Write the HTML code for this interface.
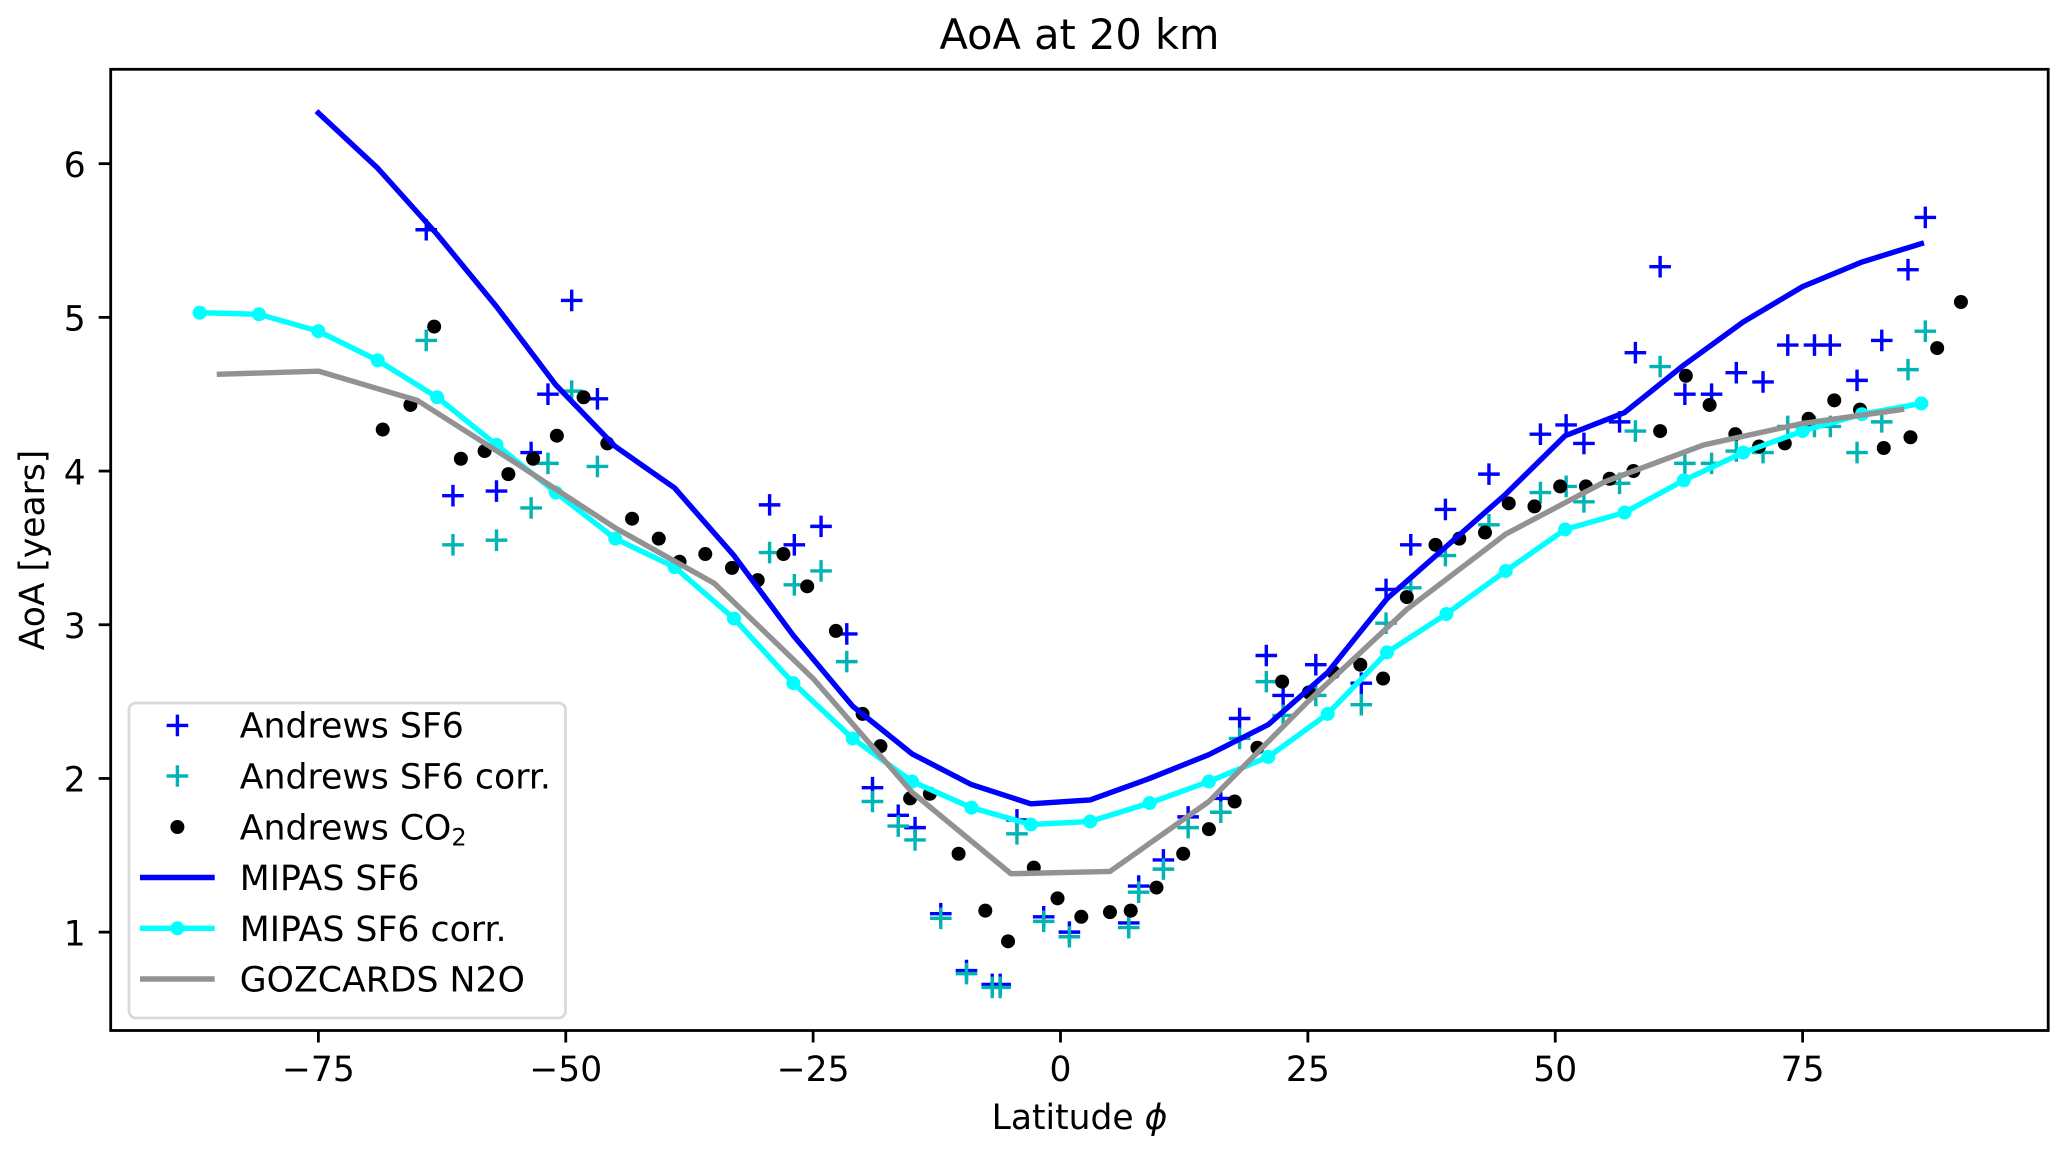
<!DOCTYPE html>
<html lang="en">
<head>
<meta charset="utf-8">
<title>AoA at 20 km</title>
<style>
html,body{margin:0;padding:0;background:#fff;}
body{width:2067px;height:1154px;overflow:hidden;}
svg{display:block;}
text{font-family:"DejaVu Sans","Liberation Sans",sans-serif;fill:#000;}
</style>
</head>
<body>
<svg id="chart" xmlns="http://www.w3.org/2000/svg" width="2067" height="1154" viewBox="0 0 2067 1154">
  <rect x="0" y="0" width="2067" height="1154" fill="#fff"/>
  <text x="1079.5" y="49" font-size="41.5" text-anchor="middle">AoA at 20 km</text>
  <text x="1079.5" y="1129" font-size="34.5" text-anchor="middle">Latitude <tspan font-style="italic">ϕ</tspan></text>
  <text transform="translate(44,550) rotate(-90)" font-size="34.5" text-anchor="middle">AoA [years]</text>
  <g id="marks"></g>
  <g id="axes"></g>
  <g>
    <rect x="129" y="703" width="436.5" height="315" rx="7" ry="7" fill="#fff" fill-opacity="0.8" stroke="#d9d9d9" stroke-width="2.8"/>
    <g>
      <path d="M166.6 725.4H188.2M177.4 714.6V736.2" stroke="#0000ff" stroke-width="3.4" fill="none"/>
      <text x="239.8" y="737.5" font-size="34.7">Andrews SF6</text>
    </g>
    <g>
      <path d="M166.6 776H188.2M177.4 765.2V786.8" stroke="#00b4b4" stroke-width="3.4" fill="none"/>
      <text x="239.8" y="788.5" font-size="34.7">Andrews SF6 corr.</text>
    </g>
    <g>
      <circle cx="177.4" cy="827" r="7" fill="#000"/>
      <text x="239.8" y="839.5" font-size="34.7">Andrews CO<tspan font-size="24" dy="6">2</tspan></text>
    </g>
    <g>
      <line x1="140" y1="877.5" x2="214.7" y2="877.5" stroke="#0000ff" stroke-width="5.4"/>
      <text x="239.8" y="890" font-size="34.7">MIPAS SF6</text>
    </g>
    <g>
      <line x1="140" y1="928.3" x2="214.7" y2="928.3" stroke="#00ffff" stroke-width="5.4"/>
      <circle cx="177.4" cy="928.3" r="7" fill="#00ffff"/>
      <text x="239.8" y="940.8" font-size="34.7">MIPAS SF6 corr.</text>
    </g>
    <g>
      <line x1="140" y1="979" x2="214.7" y2="979" stroke="#929292" stroke-width="5.4"/>
      <text x="239.8" y="991.5" font-size="34.7">GOZCARDS N2O</text>
    </g>
  </g>
</svg>
<script>
const andrewsLat = [-64.1,-61.4,-57.0,-53.5,-51.8,-49.4,-46.8,-29.4,-26.9,-24.2,-21.6,-19.0,-16.4,-14.7,-12.1,-9.5,-6.9,-6.1,-4.4,-1.7,0.9,6.9,7.9,10.4,12.9,16.2,18.1,20.8,22.5,25.8,30.4,32.9,35.4,38.9,43.3,48.5,51.1,52.9,56.5,58.1,60.6,63.1,65.8,68.3,71.0,73.5,76.2,77.8,80.5,83.0,85.65,87.4];
const andrewsSf6 = [5.57,3.84,3.87,4.12,4.50,5.11,4.47,3.78,3.52,3.64,2.94,1.94,1.76,1.68,1.12,0.75,0.66,0.66,1.73,1.10,1.00,1.06,1.30,1.47,1.75,1.87,2.39,2.80,2.54,2.74,2.62,3.23,3.52,3.75,3.98,4.24,4.30,4.18,4.32,4.77,5.33,4.50,4.50,4.64,4.58,4.82,4.82,4.82,4.59,4.85,5.31,5.65];
const andrewsSf6Corr = [4.85,3.52,3.55,3.76,4.05,4.52,4.03,3.47,3.26,3.35,2.76,1.85,1.69,1.60,1.09,0.73,0.64,0.64,1.64,1.07,0.97,1.03,1.26,1.41,1.68,1.78,2.26,2.63,2.41,2.54,2.48,3.01,3.24,3.45,3.65,3.86,3.90,3.80,3.92,4.26,4.68,4.05,4.05,4.13,4.12,4.29,4.29,4.29,4.12,4.32,4.66,4.91];
const co2Lat = [-68.5,-65.7,-63.3,-60.6,-58.2,-55.8,-53.3,-50.9,-48.2,-45.8,-43.3,-40.6,-38.5,-35.9,-33.2,-30.6,-28.0,-25.6,-22.7,-20.0,-18.2,-15.2,-13.2,-10.3,-7.6,-5.3,-2.7,-0.3,2.1,5.0,7.1,9.7,12.4,15.0,17.6,19.9,22.4,25.1,27.6,30.3,32.6,35.0,37.9,40.3,42.9,45.3,47.9,50.5,53.1,55.5,57.9,60.6,63.2,65.6,68.2,70.6,73.2,75.6,78.2,80.8,83.2,85.9,88.6,91.0];
const co2Age = [4.27,4.43,4.94,4.08,4.13,3.98,4.08,4.23,4.48,4.18,3.69,3.56,3.41,3.46,3.37,3.29,3.46,3.25,2.96,2.42,2.21,1.87,1.90,1.51,1.14,0.94,1.42,1.22,1.10,1.13,1.14,1.29,1.51,1.67,1.85,2.20,2.63,2.56,2.69,2.74,2.65,3.18,3.52,3.56,3.60,3.79,3.77,3.90,3.90,3.95,4.00,4.26,4.62,4.43,4.24,4.16,4.18,4.34,4.46,4.40,4.15,4.22,4.80,5.10];
const mipasLat = [-87,-81,-75,-69,-63,-57,-51,-45,-39,-33,-27,-21,-15,-9,-3,3,9,15,21,27,33,39,45,51,57,63,69,75,81,87];
const mipasCorr = [5.03,5.02,4.91,4.72,4.48,4.17,3.86,3.56,3.375,3.04,2.62,2.26,1.98,1.81,1.70,1.72,1.84,1.98,2.14,2.42,2.82,3.07,3.35,3.62,3.73,3.94,4.12,4.26,4.37,4.44];
const mipasSf6Lat = [-75,-69,-63,-57,-51,-45,-39,-33,-27,-21,-15,-9,-3,3,9,15,21,27,33,39,45,51,57,63,69,75,81,87];
const mipasSf6 = [6.33,5.97,5.54,5.07,4.56,4.16,3.89,3.45,2.93,2.47,2.16,1.96,1.835,1.86,2.00,2.155,2.35,2.69,3.17,3.51,3.85,4.23,4.38,4.69,4.97,5.20,5.36,5.48];
const gozcardsLat = [-85,-75,-65,-55,-45,-35,-25,-15,-5,5,15,25,35,45,55,65,75,85];
const gozcardsN2o = [4.63,4.65,4.46,4.05,3.63,3.27,2.65,1.91,1.38,1.395,1.85,2.50,3.10,3.59,3.93,4.17,4.31,4.40];
const xTickValues = [-75,-50,-25,0,25,50,75];
const yTickValues = [1,2,3,4,5,6];

const NS = 'http://www.w3.org/2000/svg';
const plotLeft = 110.7, plotRight = 2048.2, plotTop = 69.3, plotBottom = 1030.5;
const xDomainMin = -95.99, xDomainMax = 99.82, yDomainMin = 0.36, yDomainMax = 6.614;
function xScale(v){ return plotLeft + (v - xDomainMin) / (xDomainMax - xDomainMin) * (plotRight - plotLeft); }
function yScale(v){ return plotBottom - (v - yDomainMin) / (yDomainMax - yDomainMin) * (plotBottom - plotTop); }
function make(tag, parent){ const el = document.createElementNS(NS, tag); parent.appendChild(el); return el; }
function polyPoints(xs, ys){ return xs.map((x, i) => xScale(x).toFixed(2) + ',' + yScale(ys[i]).toFixed(2)).join(' '); }
function tickLabel(v){ return v < 0 ? '\u2212' + Math.abs(v) : String(v); }

const marks = document.getElementById('marks');
const axes = document.getElementById('axes');

function drawPlus(xs, ys, color, name){
  const g = make('g', marks);
  
  
  xs.forEach((x, i) => {
    const p = make('path', g);
    const cx = xScale(x), cy = yScale(ys[i]);
    p.setAttribute('d', 'M' + (cx - 10.8) + ' ' + cy + 'H' + (cx + 10.8) + 'M' + cx + ' ' + (cy - 10.8) + 'V' + (cy + 10.8));
    p.setAttribute('stroke', color);
    p.setAttribute('stroke-width', '3.4');
    p.setAttribute('fill', 'none');
    
    
  });
}
function drawDots(xs, ys, color, r, name, parent){
  const g = make('g', parent);
  
  
  xs.forEach((x, i) => {
    const c = make('circle', g);
    c.setAttribute('cx', xScale(x));
    c.setAttribute('cy', yScale(ys[i]));
    c.setAttribute('r', r);
    c.setAttribute('fill', color);
    
    
  });
}
function drawLine(xs, ys, color, name){
  const l = make('polyline', marks);
  l.setAttribute('points', polyPoints(xs, ys));
  l.setAttribute('fill', 'none');
  l.setAttribute('stroke', color);
  l.setAttribute('stroke-width', '5.4');
  l.setAttribute('stroke-linejoin', 'round');
  l.setAttribute('stroke-linecap', 'square');
  
  
}

drawPlus(andrewsLat, andrewsSf6, '#0000ff', 'andrews-sf6');
drawPlus(andrewsLat, andrewsSf6Corr, '#00b4b4', 'andrews-sf6-corr');
drawDots(co2Lat, co2Age, '#000', 7, 'andrews-co2', marks);
drawLine(mipasSf6Lat, mipasSf6, '#0000ff', 'mipas-sf6');
drawLine(mipasLat, mipasCorr, '#00ffff', 'mipas-sf6-corr');
drawDots(mipasLat, mipasCorr, '#00ffff', 7, 'mipas-sf6-corr', marks);
drawLine(gozcardsLat, gozcardsN2o, '#929292', 'gozcards-n2o');

xTickValues.forEach(v => {
  const t = make('line', axes);
  t.setAttribute('x1', xScale(v));
  t.setAttribute('x2', xScale(v));
  t.setAttribute('y1', plotBottom);
  t.setAttribute('y2', plotBottom + 12);
  t.setAttribute('stroke', '#000');
  t.setAttribute('stroke-width', '2.8');
  
  
  const s = make('text', axes);
  s.setAttribute('x', xScale(v));
  s.setAttribute('y', 1081);
  s.setAttribute('font-size', '34.5');
  s.setAttribute('text-anchor', 'middle');
  
  
  s.textContent = tickLabel(v);
});
yTickValues.forEach(v => {
  const t = make('line', axes);
  t.setAttribute('x1', plotLeft - 12);
  t.setAttribute('x2', plotLeft);
  t.setAttribute('y1', yScale(v));
  t.setAttribute('y2', yScale(v));
  t.setAttribute('stroke', '#000');
  t.setAttribute('stroke-width', '2.8');
  
  
  const s = make('text', axes);
  s.setAttribute('x', plotLeft - 25);
  s.setAttribute('y', yScale(v) + 13.3);
  s.setAttribute('font-size', '34.5');
  s.setAttribute('text-anchor', 'end');
  
  
  s.textContent = tickLabel(v);
});
const frame = make('rect', axes);
frame.setAttribute('x', plotLeft);
frame.setAttribute('y', plotTop);
frame.setAttribute('width', plotRight - plotLeft);
frame.setAttribute('height', plotBottom - plotTop);
frame.setAttribute('fill', 'none');
frame.setAttribute('stroke', '#000');
frame.setAttribute('stroke-width', '2.8');


</script>
</body>
</html>
